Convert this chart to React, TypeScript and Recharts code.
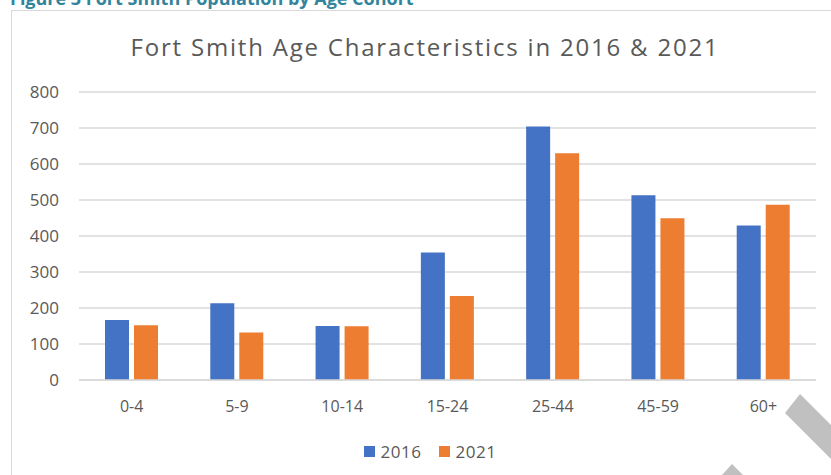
import { BarChart, Bar, XAxis, YAxis, CartesianGrid, Legend } from 'recharts';

const AGE_GROUPS = ['0-4', '5-9', '10-14', '15-24', '25-44', '45-59', '60+'];
const POP_2016 = [167, 213, 150, 354, 704, 513, 429];
const POP_2021 = [152, 132, 149, 233, 630, 449, 487];
const Y_TICKS = [0, 100, 200, 300, 400, 500, 600, 700, 800];

const SERIES = [
  { key: 'y2016', name: '2016', color: '#4472C4' },
  { key: 'y2021', name: '2021', color: '#ED7D31' },
];

const data = AGE_GROUPS.map((age, i) => ({
  age,
  y2016: POP_2016[i],
  y2021: POP_2021[i],
}));

const FONT = '"Open Sans", "DejaVu Sans", sans-serif';
const GRID = '#d9d9d9';
const TEXT = '#595959';

function LegendBox() {
  return (
    <div style={{ display: 'flex', justifyContent: 'center', paddingLeft: 46, height: 24, alignItems: 'center' }}>
      {SERIES.map((s) => (
        <div key={s.key} style={{ display: 'flex', alignItems: 'center', marginRight: 17 }}>
          <span style={{ width: 11, height: 11, background: s.color, display: 'inline-block', marginRight: 6 }} />
          <span style={{ fontFamily: FONT, fontSize: 17, color: TEXT, letterSpacing: 0.5 }}>{s.name}</span>
        </div>
      ))}
    </div>
  );
}

export default function App() {
  return (
    <div
      style={{
        position: 'fixed',
        left: 0,
        top: 0,
        width: 831,
        height: 475,
        overflow: 'hidden',
        background: '#fff',
      }}
    >
      {/* figure caption, mostly scrolled off the top */}
      <div
        style={{
          position: 'absolute',
          left: 10,
          top: -12,
          fontFamily: FONT,
          fontWeight: 700,
          fontSize: 18,
          lineHeight: '20px',
          color: '#31849B',
          whiteSpace: 'nowrap',
        }}
      >
        Figure 3 Fort Smith Population by Age Cohort
      </div>

      {/* chart area border */}
      <div
        style={{
          position: 'absolute',
          left: 11,
          top: 10,
          width: 900,
          height: 600,
          border: `1.5px solid ${GRID}`,
        }}
      />

      <div
        style={{
          position: 'absolute',
          left: 0,
          top: 31,
          width: 850,
          textAlign: 'center',
          fontFamily: FONT,
          fontSize: 24,
          letterSpacing: 1.8,
          lineHeight: '32px',
          color: TEXT,
          whiteSpace: 'nowrap',
        }}
      >
        Fort Smith Age Characteristics in 2016 &amp; 2021
      </div>

      <div style={{ position: 'absolute', left: 0, top: 0 }}>
        <BarChart
          width={831}
          height={475}
          data={data}
          margin={{ top: 92, right: 15, bottom: 31, left: 10 }}
          barSize={24}
          barGap={5}
        >
          <CartesianGrid vertical={false} stroke={GRID} strokeWidth={1.5} />
          <XAxis
            dataKey="age"
            height={40}
            axisLine={{ stroke: GRID, strokeWidth: 1.5 }}
            tickLine={false}
            tickSize={0}
            tickMargin={21}
            tick={{ fill: TEXT, fontFamily: FONT, fontSize: 16 }}
          />
          <YAxis
            width={69}
            domain={[0, 800]}
            ticks={Y_TICKS}
            axisLine={false}
            tickLine={false}
            tickSize={0}
            tickMargin={20}
            tick={{ fill: TEXT, fontFamily: FONT, fontSize: 17 }}
          />
          <Legend
            verticalAlign="bottom"
            content={() => <LegendBox />}
            wrapperStyle={{ top: 439, bottom: 'auto', left: 0, width: 831, height: 24 }}
          />
          {SERIES.map((s) => (
            <Bar key={s.key} dataKey={s.key} name={s.name} fill={s.color} isAnimationActive={false} />
          ))}
        </BarChart>
      </div>

      {/* grey page marks in the lower right corner */}
      <svg width={831} height={475} style={{ position: 'absolute', left: 0, top: 0, pointerEvents: 'none' }}>
        <polygon points="800,394 831,425 831,459 785,413" fill="#c0c0c0" />
        <polygon points="722,475 732,464 743,475" fill="#c0c0c0" />
      </svg>
    </div>
  );
}
